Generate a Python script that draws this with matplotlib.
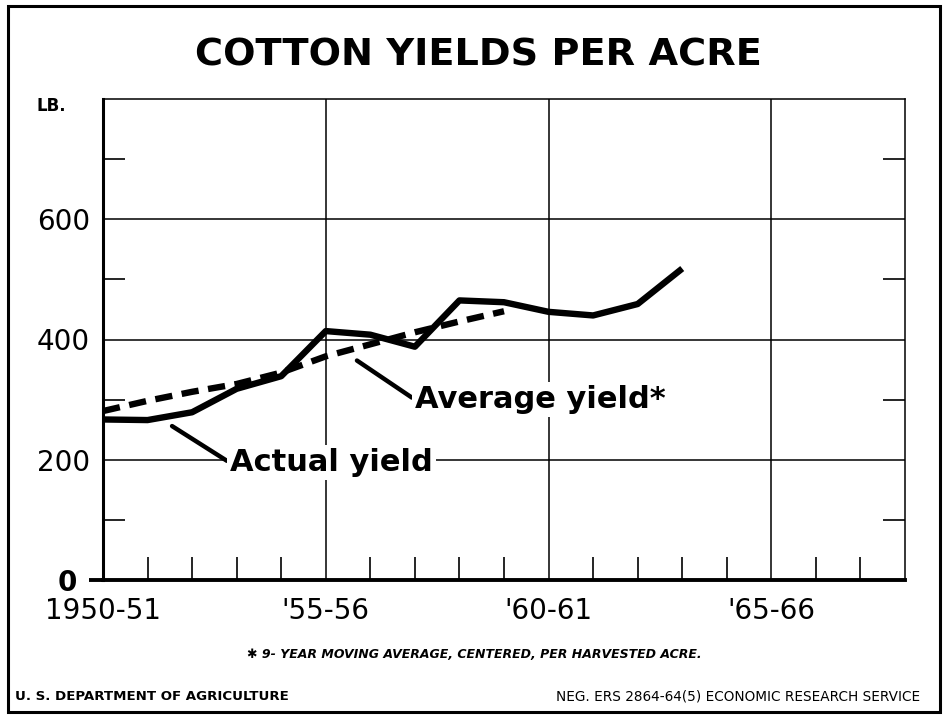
import matplotlib
matplotlib.use("Agg")
import matplotlib.pyplot as plt
from matplotlib.patches import Rectangle
from matplotlib.transforms import ScaledTranslation

# cotton yields, lb. per harvested acre
years = [1950, 1951, 1952, 1953, 1954, 1955, 1956, 1957, 1958, 1959,
         1960, 1961, 1962, 1963]
actual = [267, 266, 279, 318, 339, 414, 408, 388, 465, 462, 446, 440, 459, 518]

avg_years = [1950, 1951, 1952, 1953, 1954, 1955, 1956, 1957, 1958, 1959]
average = [281, 298, 313, 326, 345, 372, 392, 412, 430, 447]

y_major = [0, 200, 400, 600]
y_labels = ["0", "200", "400", "600"]
y_minor = [100, 300, 500, 700]
x_major = [1950, 1955, 1960, 1965]
x_labels = ["1950-51", "'55-56", "'60-61", "'65-66"]
x_minor = list(range(1951, 1968))

plt.rcParams['font.family'] = ['DejaVu Sans']

fig = plt.figure(figsize=(9.48, 7.19), dpi=100)
ax = fig.add_axes([103 / 948, 1 - 580 / 719, 802 / 948, 481 / 719])

ax.set_xlim(1950, 1968)
ax.set_ylim(0, 800)

# grid lines
for y in y_major[1:]:
    ax.axhline(y, color='black', lw=1.1, zorder=1)
for x in x_major[1:]:
    ax.axvline(x, color='black', lw=1.1, zorder=1)

ax.plot(years, actual, color='black', lw=4.6, solid_joinstyle='round',
        solid_capstyle='butt', zorder=3)
ax.plot(avg_years, average, color='black', lw=4.6, dashes=(2.7, 1.5),
        dash_capstyle='butt', zorder=3)

# ticks
ax.set_yticks(y_major, y_labels)
ax.set_yticks(y_minor, minor=True)
ax.set_xticks(x_major, x_labels)
ax.set_xticks(x_minor, minor=True)
ax.tick_params(axis='both', which='major', length=0, labelsize=20, pad=12)
ax.tick_params(axis='y', which='major', pad=9.5)
ax.tick_params(axis='y', which='minor', direction='in', length=16, width=1.2,
               left=True, right=True)
ax.tick_params(axis='x', which='minor', direction='in', length=16.5, width=1.2)
for lab in ax.get_yticklabels():
    if lab.get_text() == "0":
        lab.set_transform(lab.get_transform() + ScaledTranslation(-0.13, 0, fig.dpi_scale_trans))
        lab.set_fontweight('bold')

for s in ['top', 'right']:
    ax.spines[s].set_linewidth(1.1)
ax.spines['left'].set_linewidth(2.2)
ax.spines['bottom'].set_linewidth(2.8)
# baseline stub beside the zero label
ax.plot([-0.017, 0], [0, 0], transform=ax.transAxes, color='black', lw=2.8,
        clip_on=False, solid_capstyle='butt')

# labels on the lines
ax.annotate("Actual yield", xy=(1951.55, 256), xytext=(1952.85, 195),
            fontsize=22, fontweight='bold', va='center', ha='left',
            bbox=dict(boxstyle='square,pad=0.1', fc='white', ec='none'),
            arrowprops=dict(arrowstyle='-', color='black', lw=3.2,
                            shrinkA=0, shrinkB=0, relpos=(0, 0.5)),
            zorder=4)
ax.annotate("Average yield*", xy=(1955.7, 365), xytext=(1957.0, 300),
            fontsize=22, fontweight='bold', va='center', ha='left',
            bbox=dict(boxstyle='square,pad=0.1', fc='white', ec='none'),
            arrowprops=dict(arrowstyle='-', color='black', lw=3.2,
                            shrinkA=0, shrinkB=0, relpos=(0, 0.5)),
            zorder=4)

fig.text(37 / 948, 1 - 106 / 719, "LB.", fontsize=12, fontweight='bold',
         va='center', ha='left')

fig.text(0.505, 1 - 55 / 719, "COTTON YIELDS PER ACRE", fontsize=27.5,
         fontweight='bold', ha='center', va='center')

fig.text(0.5, 1 - 654 / 719, "\u2731 9- YEAR MOVING AVERAGE, CENTERED, PER HARVESTED ACRE.",
         fontsize=9, fontweight='bold', fontstyle='italic', ha='center', va='center')
fig.text(15 / 948, 1 - 697 / 719, "U. S. DEPARTMENT OF AGRICULTURE",
         fontsize=9.6, fontweight='bold', ha='left', va='center')
fig.text(920 / 948, 1 - 697 / 719, "NEG. ERS 2864-64(5) ECONOMIC RESEARCH SERVICE",
         fontsize=9.8, ha='right', va='center')

# outer frame
fig.patches.append(Rectangle((8 / 948, 1 - 712 / 719), 932 / 948, 706 / 719,
                             transform=fig.transFigure, fill=False,
                             ec='black', lw=2.2))

fig.savefig("out.png", dpi=100)
